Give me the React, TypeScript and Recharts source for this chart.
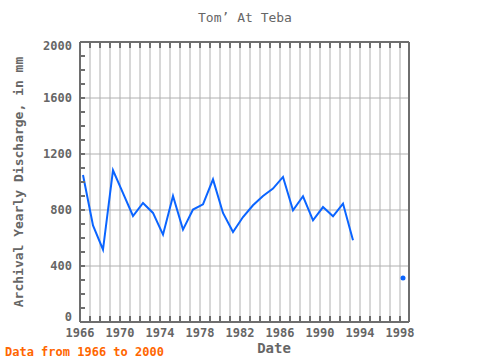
import { LineChart, Line, XAxis, YAxis, CartesianGrid } from "recharts";

const years = [
  1966, 1967, 1968, 1969, 1970, 1971, 1972, 1973, 1974, 1975, 1976,
  1977, 1978, 1979, 1980, 1981, 1982, 1983, 1984, 1985, 1986, 1987,
  1988, 1989, 1990, 1991, 1992, 1993, 1994, 1995, 1996, 1997, 1998,
];
const discharge: (number | null)[] = [
  1050, 690, 517, 1084, 921, 757, 850, 779, 624, 900, 660,
  803, 841, 1019, 779, 643, 750, 834, 900, 953, 1036, 798,
  898, 726, 821, 755, 846, 584, null, null, null, null, 314,
];
const yearTicks = years;
const yTicks = [0, 100, 200, 300, 400, 500, 600, 700, 800, 900, 1000, 1100, 1200, 1300, 1400, 1500, 1600, 1700, 1800, 1900, 2000];
const yGrid = [400, 800, 1200, 1600];

// samples sit a bit past the year boundary
const MID_YEAR = 0.3;

const data = years.map((y, i) => ({ x: y + MID_YEAR, v: discharge[i] }));

const AXIS = "#6e6e6e";
const GRID = "#b0b0b0";
const TEXT = "#666666";
const BLUE = "#0a64ff";
const FONT = "'DejaVu Sans Mono', monospace";
const TS = 6;
const TM = 2;

const BottomTick = (props: any) => {
  const { x, y, payload } = props;
  const ay = y - TS - TM;
  const yr = payload.value;
  return (
    <g>
      <line x1={x} x2={x} y1={ay} y2={ay - 6} stroke={AXIS} strokeWidth={2} />
      {(yr - 1966) % 4 === 0 && (
        <text x={x} y={ay + 15} textAnchor="middle" fontFamily={FONT} fontSize={12} fontWeight="bold" fill={TEXT}>
          {yr}
        </text>
      )}
    </g>
  );
};

const TopTick = (props: any) => {
  const { x, y } = props;
  const ay = y + TS + TM;
  return <line x1={x} x2={x} y1={ay} y2={ay + 6} stroke={AXIS} strokeWidth={2} />;
};

const LeftTick = (props: any) => {
  const { x, y, payload } = props;
  const ax = x + TS + TM;
  const v = payload.value;
  // end labels are nudged inside the frame
  const dy = v === 2000 ? 8 : v === 0 ? -1 : 4;
  return (
    <g>
      <line x1={ax} x2={ax + 5} y1={y} y2={y} stroke={AXIS} strokeWidth={2} />
      {v % 400 === 0 && (
        <text x={ax - 8} y={y + dy} textAnchor="end" fontFamily={FONT} fontSize={12} fontWeight="bold" fill={TEXT}>
          {v}
        </text>
      )}
    </g>
  );
};

const RightTick = (props: any) => {
  const { x, y } = props;
  const ax = x - TS - TM;
  return <line x1={ax} x2={ax - 5} y1={y} y2={y} stroke={AXIS} strokeWidth={2} />;
};

const Dot = (p: any) => {
  const { cx, cy, index } = p;
  const alone = discharge[index] != null && discharge[index - 1] == null && discharge[index + 1] == null;
  if (!alone) return <g key={index} />;
  return <circle key={index} cx={cx} cy={cy} r={2.5} fill={BLUE} />;
};

export default function App() {
  return (
    <div style={{ position: "relative", width: 480, height: 360 }}>
      <style>{"body{margin:0}"}</style>
      <LineChart width={480} height={360} data={data} margin={{ top: 32, right: 61, left: 20, bottom: 18 }}>
        <CartesianGrid stroke={GRID} horizontalValues={yGrid} verticalValues={yearTicks} />
        <XAxis
          dataKey="x"
          type="number"
          domain={[1966, 1998.9]}
          allowDataOverflow
          ticks={yearTicks}
          interval={0}
          height={20}
          tickSize={TS}
          tickMargin={TM}
          tickLine={false}
          tick={<BottomTick />}
          axisLine={{ stroke: AXIS, strokeWidth: 2 }}
        />
        <XAxis
          xAxisId="top"
          orientation="top"
          dataKey="x"
          type="number"
          domain={[1966, 1998.9]}
          allowDataOverflow
          ticks={yearTicks}
          interval={0}
          height={10}
          tickSize={TS}
          tickMargin={TM}
          tickLine={false}
          tick={<TopTick />}
          axisLine={{ stroke: AXIS, strokeWidth: 2 }}
        />
        <YAxis
          type="number"
          domain={[0, 2000]}
          ticks={yTicks}
          interval={0}
          width={60}
          tickSize={TS}
          tickMargin={TM}
          tickLine={false}
          tick={<LeftTick />}
          axisLine={{ stroke: AXIS, strokeWidth: 2 }}
        />
        <YAxis
          yAxisId="right"
          orientation="right"
          type="number"
          domain={[0, 2000]}
          ticks={yTicks}
          interval={0}
          width={10}
          tickSize={TS}
          tickMargin={TM}
          tickLine={false}
          tick={<RightTick />}
          axisLine={{ stroke: AXIS, strokeWidth: 2 }}
        />
        <Line
          dataKey="v"
          stroke={BLUE}
          strokeWidth={2}
          dot={Dot}
          activeDot={false}
          connectNulls={false}
          isAnimationActive={false}
        />
      </LineChart>
      <svg width={480} height={360} style={{ position: "absolute", left: 0, top: 0, pointerEvents: "none" }}>
        <text x={245} y={22} textAnchor="middle" fontFamily={FONT} fontSize={13} fill={TEXT}>
          Tom’ At Teba
        </text>
        <text
          x={23}
          y={182}
          textAnchor="middle"
          transform="rotate(-90 23 182)"
          fontFamily={FONT}
          fontSize={13}
          fontWeight="bold"
          fill={TEXT}
        >
          Archival Yearly Discharge, in mm
        </text>
        <text x={274} y={353} textAnchor="middle" fontFamily={FONT} fontSize={14} fontWeight="bold" fill={TEXT}>
          Date
        </text>
        <text x={5} y={356} fontFamily={FONT} fontSize={12} fontWeight="bold" fill="#ff6600">
          Data from 1966 to 2000
        </text>
      </svg>
    </div>
  );
}
